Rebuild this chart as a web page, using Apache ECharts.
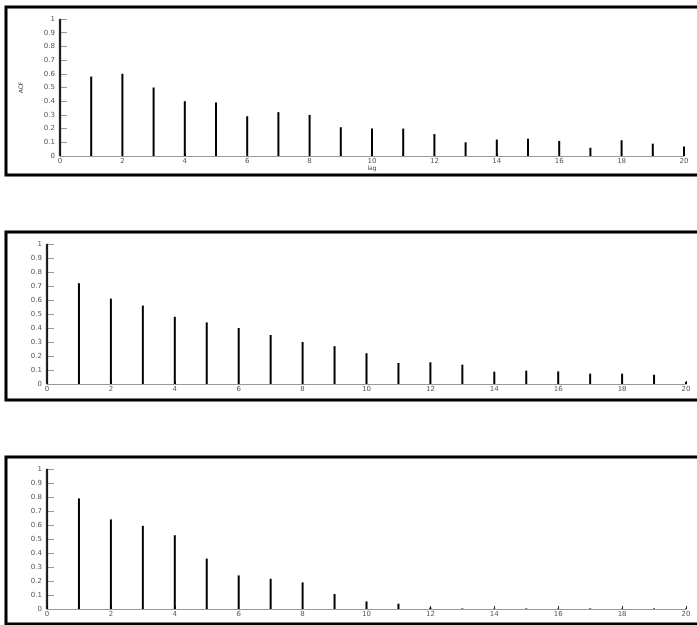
<!DOCTYPE html>
<html>
<head>
<meta charset="utf-8">
<script src="https://cdn.jsdelivr.net/npm/echarts@6/dist/echarts.min.js"></script>
<style>html,body{margin:0;padding:0;background:#fff;}#c{width:697px;height:625px;}</style>
</head>
<body>
<div id="c"></div>
<script>
const lags = [0,1,2,3,4,5,6,7,8,9,10,11,12,13,14,15,16,17,18,19,20];
const acf1 = [1,0.58,0.60,0.50,0.40,0.39,0.29,0.32,0.30,0.21,0.20,0.20,0.16,0.10,0.12,0.126,0.11,0.06,0.115,0.09,0.07];
const acf2 = [1,0.72,0.61,0.56,0.48,0.44,0.40,0.35,0.30,0.27,0.22,0.15,0.155,0.138,0.088,0.095,0.09,0.074,0.074,0.066,0.014];
const acf3 = [1,0.79,0.64,0.594,0.527,0.36,0.24,0.216,0.19,0.107,0.054,0.038,0.01,0.004,0.003,0.004,0.003,0.004,0.003,0.004,0.003];
const yTicks = ['0','0.1','0.2','0.3','0.4','0.5','0.6','0.7','0.8','0.9','1'];
const xTicks = ['0','2','4','6','8','10','12','14','16','18','20'];
const yName = 'ACF';
const xName = 'lag';

const chart = echarts.init(document.getElementById('c'));
const grids = [
  {left:60, top:19, width:624, height:137},
  {left:47, top:244, width:639, height:140},
  {left:47, top:469, width:639, height:140}
];
const allData = [acf1, acf2, acf3];
const font = 'DejaVu Sans';
function xAxis(i){
  return {
    type:'value', gridIndex:i, min:0, max:20, interval:2,
    name: i===0 ? xName : '', nameLocation:'middle', nameGap:9,
    nameTextStyle:{fontSize:6, color:'#444', fontFamily:font},
    axisLine:{show:true, lineStyle:{color:'#999', width:1}},
    axisTick:{show:true, inside:true, length:3, lineStyle:{color:'#333'}},
    axisLabel:{fontSize:7, color:'#555', margin:2, fontFamily:font,
      formatter:(v)=>xTicks[Math.round(v/2)]},
    splitLine:{show:false}
  };
}
function yAxis(i){
  return {
    type:'value', gridIndex:i, min:0, max:1, interval:0.1,
    name: i===0 ? yName : '', nameLocation:'middle', nameGap:36, nameRotate:90,
    nameTextStyle:{fontSize:6, color:'#444', fontFamily:font},
    axisLine:{show:true, lineStyle:{color:'#999', width:1}},
    axisTick:{show:true, inside:true, length:7, lineStyle:{color:'#999'}},
    axisLabel:{fontSize:7, color:'#555', margin:5, fontFamily:font,
      formatter:(v)=>yTicks[Math.round(v*10)]},
    splitLine:{show:false}
  };
}
const series = allData.map((arr,i)=>({
  type:'bar', xAxisIndex:i, yAxisIndex:i, barWidth:2,
  itemStyle:{color:'#000'}, silent:true,
  data: lags.map((l,k)=> k===0 ? {value:[l,arr[k]], itemStyle:{color:'#000', borderColor:'#000', borderWidth:0.6}} : [l,arr[k]])
}));
const boxes = [[7,168],[232,168],[457,167]].map(b=>({
  type:'rect', shape:{x:6, y:b[0], width:720, height:b[1]},
  style:{fill:'none', stroke:'#000', lineWidth:3}, silent:true
}));
chart.setOption({
  animation:false,
  backgroundColor:'#fff',
  grid: grids,
  xAxis: [0,1,2].map(xAxis),
  yAxis: [0,1,2].map(yAxis),
  series: series,
  graphic: boxes
});
</script>
</body>
</html>
